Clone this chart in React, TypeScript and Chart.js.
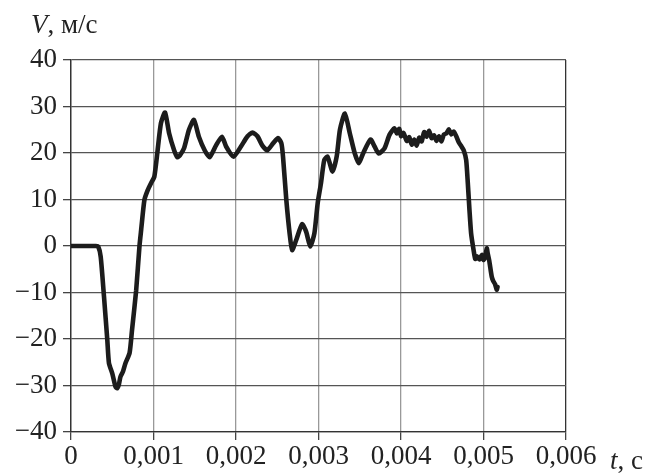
import React, { useEffect, useRef } from "react";
import { Chart, registerables } from "chart.js";

Chart.register(...registerables);

// time, seconds
const timeS: number[] = [
  0, 0.0001, 0.0002, 0.0003, 0.00033, 0.00036, 0.0004, 0.00044, 0.00046, 0.0005,
  0.00054, 0.00056, 0.00058, 0.0006, 0.00063, 0.00066, 0.00071, 0.00074, 0.00079, 0.00083,
  0.00085, 0.00089, 0.00093, 0.00097, 0.00101, 0.00105, 0.00109, 0.00114, 0.00119, 0.00125,
  0.00129, 0.00132, 0.00137, 0.00143, 0.00149, 0.00155, 0.00162, 0.00168, 0.00176, 0.00183,
  0.00188, 0.00197, 0.00206, 0.00214, 0.0022, 0.00226, 0.00232, 0.00238, 0.00245, 0.00251,
  0.00255, 0.00257, 0.00261, 0.00265, 0.00268, 0.00273, 0.0028, 0.00285, 0.0029, 0.00295,
  0.00299, 0.00303, 0.00307, 0.00311, 0.00317, 0.00322, 0.00326, 0.00332, 0.00338, 0.00344,
  0.00349, 0.00354, 0.00363, 0.00368, 0.00373, 0.0038, 0.00386, 0.00392, 0.00395, 0.00398,
  0.004, 0.00403, 0.00407, 0.0041, 0.00413, 0.00416, 0.00419, 0.00422, 0.00425, 0.00428,
  0.00431, 0.00434, 0.00437, 0.0044, 0.00443, 0.00446, 0.00449, 0.00452, 0.00455, 0.00458,
  0.00461, 0.00464, 0.00467, 0.0047, 0.00473, 0.00476, 0.00479, 0.00481, 0.00483, 0.00485,
  0.00488, 0.0049, 0.00492, 0.00495, 0.00498, 0.005, 0.00502, 0.00504, 0.00505, 0.00507,
  0.0051, 0.00512, 0.00514, 0.00516, 0.00517,
];

// velocity, m/s
const speed: number[] = [
  0, 0, 0, 0, -0.1, -2.3, -10.9, -20.2, -25.2, -27.4,
  -30.3, -30.6, -29.8, -28.1, -27, -25.2, -23, -18, -9.5, 0,
  3.4, 9.9, 12, 13.5, 14.9, 20.6, 26.4, 28.7, 24.2, 20.6,
  19.1, 19.5, 21, 25, 27.1, 23.5, 20.6, 19.1, 21.7, 23.5,
  21.4, 19.2, 21.4, 23.6, 24.4, 23.6, 21.6, 20.6, 22.1, 23.2,
  22.1, 19.2, 9.9, 2.7, -0.9, 1.3, 4.7, 3.1, -0.1, 2.7,
  9.2, 13.5, 18.5, 19.2, 16, 19.2, 25, 28.5, 24.2, 19.9,
  17.8, 19.9, 22.9, 21.4, 19.9, 21, 23.9, 25.3, 24.2, 25.2,
  23.6, 24.3, 22.6, 23.4, 21.8, 22.9, 21.6, 23.3, 22.5, 24.5,
  23.5, 24.8, 23.2, 23.8, 22.6, 23.6, 22.5, 24, 24.2, 25.1,
  24, 24.6, 23.6, 22.3, 21.5, 20.6, 18.5, 13.5, 7.7, 2.7,
  -0.9, -2.8, -2.2, -2.9, -1.9, -3, -2.4, -0.5, -1.5, -3.2,
  -6.6, -7.6, -8.2, -9.4, -8.8,
];

const xTicks: number[] = [0, 0.001, 0.002, 0.003, 0.004, 0.005, 0.006];
const yTicks: number[] = [-40, -30, -20, -10, 0, 10, 20, 30, 40];

const FONT = "'Liberation Serif', serif";
const FS = 27;

const axisTitles = {
  id: "axisTitles",
  afterDraw(chart: any) {
    const ctx = chart.ctx as CanvasRenderingContext2D;
    ctx.save();
    ctx.fillStyle = "#222";
    ctx.textBaseline = "alphabetic";
    ctx.textAlign = "left";
    ctx.font = `italic ${FS}px ${FONT}`;
    ctx.fillText("V", 31, 33);
    let w = ctx.measureText("V").width;
    ctx.font = `normal ${FS}px ${FONT}`;
    ctx.fillText(", м/с", 31 + w, 33);
    ctx.font = `italic ${FS}px ${FONT}`;
    ctx.fillText("t", 610, 469);
    w = ctx.measureText("t").width;
    ctx.font = `normal ${FS}px ${FONT}`;
    ctx.fillText(", с", 610 + w, 469);
    ctx.restore();
  },
};

export default function App() {
  const ref = useRef<HTMLCanvasElement | null>(null);

  useEffect(() => {
    if (!ref.current) return;
    const points = timeS.map((t, i) => ({ x: t, y: speed[i] }));
    const chart = new Chart(ref.current, {
      type: "scatter",
      data: {
        datasets: [
          {
            data: points,
            showLine: true,
            borderColor: "#1c1c1c",
            borderWidth: 4.6,
            pointRadius: 0,
            tension: 0.2,
            borderJoinStyle: "round",
            borderCapStyle: "round",
          },
        ],
      },
      options: {
        responsive: false,
        animation: false,
        layout: { padding: { left: 0, top: 60, right: 81, bottom: 0 } },
        plugins: { legend: { display: false }, tooltip: { enabled: false } },
        scales: {
          x: {
            type: "linear",
            min: 0,
            max: 0.006,
            afterBuildTicks: (scale: any) => {
              scale.ticks = xTicks.map((v) => ({ value: v }));
            },
            afterFit: (scale: any) => {
              scale.height = 44;
            },
            border: { display: true, color: "#333", width: 1.3 },
            grid: {
              color: (c: any) =>
                c.tick && (c.tick.value === 0 || c.tick.value === 0.006) ? "#333" : "#999",
              lineWidth: 1.3,
              tickLength: 8,
              tickColor: "#444",
            },
            ticks: {
              color: "#222",
              font: { family: FONT, size: FS, lineHeight: 1.2 },
              padding: 1,
              maxRotation: 0,
              autoSkip: false,
              callback: (v: any) => {
                const n = Number(v);
                return n === 0 ? "0" : n.toFixed(3).replace(".", ",");
              },
            },
          },
          y: {
            type: "linear",
            min: -40,
            max: 40,
            afterBuildTicks: (scale: any) => {
              scale.ticks = yTicks.map((v) => ({ value: v }));
            },
            afterFit: (scale: any) => {
              scale.width = 71;
            },
            border: { display: true, color: "#333", width: 1.3 },
            grid: {
              color: "#555",
              lineWidth: 1.3,
              tickLength: 8,
              tickColor: "#444",
            },
            ticks: {
              color: "#222",
              font: { family: FONT, size: FS, lineHeight: 1.2 },
              padding: 6,
              autoSkip: false,
              callback: (v: any) => {
                const n = Number(v);
                return n < 0 ? "\u2212" + Math.abs(n) : String(n);
              },
            },
          },
        },
      },
      plugins: [axisTitles],
    });
    return () => chart.destroy();
  }, []);

  return (
    <div style={{ position: "fixed", left: 0, top: 0, width: 647, height: 476, background: "#fff" }}>
      <canvas ref={ref} width={647} height={476} style={{ display: "block" }} />
    </div>
  );
}
